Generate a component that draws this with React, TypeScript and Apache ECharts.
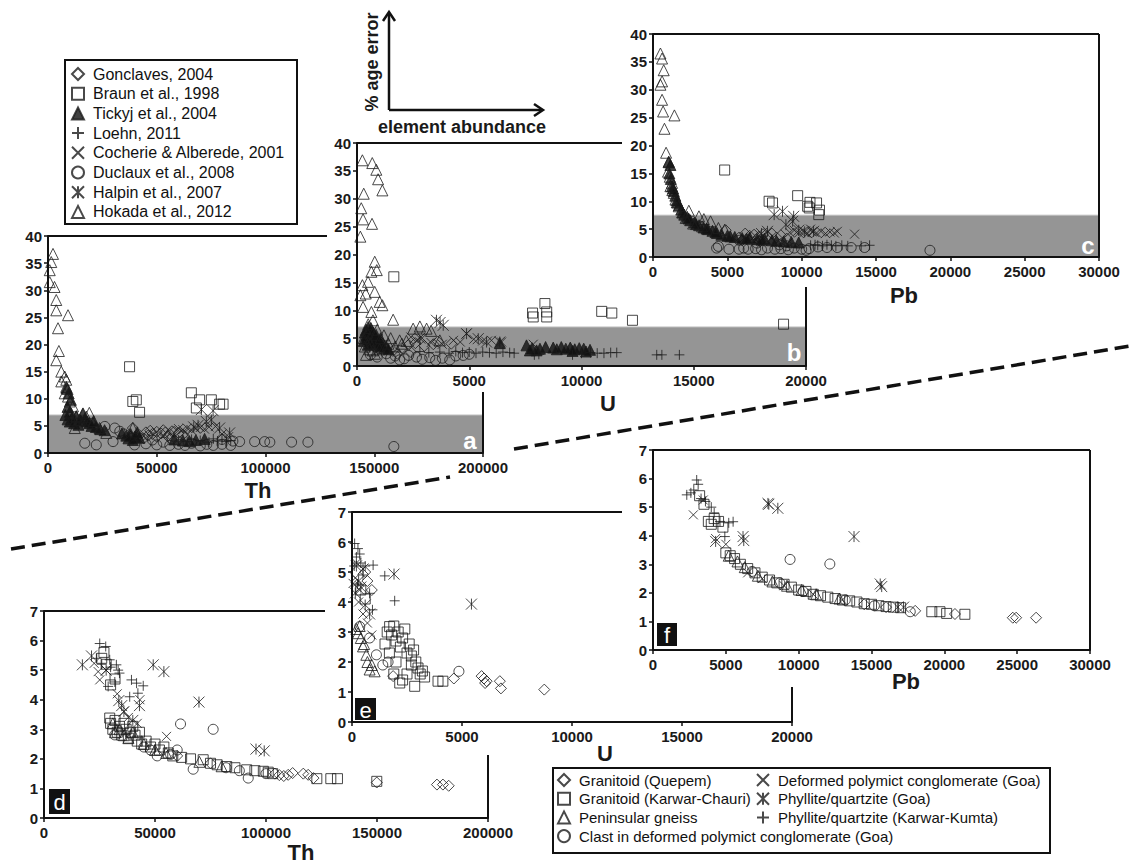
import React, { useEffect, useRef } from "react";
import * as echarts from "echarts";

const FONT = '"Liberation Sans", Arial, Helvetica, sans-serif';

// ---------- Legend names ----------
const litNames = [
  "Gonclaves, 2004",
  "Braun et al., 1998",
  "Tickyj et al., 2004",
  "Loehn, 2011",
  "Cocherie & Alberede, 2001",
  "Duclaux et al., 2008",
  "Halpin et al., 2007",
  "Hokada et al., 2012",
];
const sampleNames = [
  "Granitoid (Quepem)",
  "Granitoid (Karwar-Chauri)",
  "Peninsular gneiss",
  "Clast in deformed polymict conglomerate (Goa)",
  "Deformed polymict conglomerate (Goa)",
  "Phyllite/quartzite (Goa)",
  "Phyllite/quartzite (Karwar-Kumta)",
];

// ---------- Axis ticks ----------
const errTicksMax = 40, errTicksStep = 5;
const relTicksMax = 7, relTicksStep = 1;
const thMax = 200000, thStep = 50000;
const uMax = 20000, uStep = 5000;
const pbMax = 30000, pbStep = 5000;
const bandA = 7, bandB = 7, bandC = 7.5;

// ---------- Panel a (Th vs % age error) ----------
const aGonclaves = [[39000,4.6],[45000,3.8],[48000,3.5],[50000,3.9],[52000,3.6],[54000,3.8],[56000,3.5],[58000,3.9],[60000,3.7],[46000,3.2],[50000,3.0],[62000,3.4],[55000,3.1],[38000,3.0],[42000,3.3],[44000,2.7],[47000,4.1],[53000,4.2],[57000,4.0]];
const aBraun = [[37500,15.9],[39000,9.5],[40600,9.8],[42100,7.5],[65900,11.1],[69700,9.8],[68200,8.3],[75100,9.8],[78900,9.0],[80500,9.0]];
const aTickyj = [[8000,7.0],[9000,6.2],[10000,5.8],[11000,6.5],[12000,5.5],[14000,5.2],[15000,6.0],[16000,7.2],[17000,6.4],[18000,5.8],[19000,5.5],[20000,5.0],[22000,4.8],[24000,4.4],[8500,12.0],[9500,11.0],[10500,9.8],[38000,3.5],[40000,3.0],[42000,2.8],[36000,3.2],[58000,2.5],[62000,2.3],[65000,2.2],[68000,2.4],[72000,2.6],[9000,8.5],[10000,7.6],[13000,6.8],[21000,5.9],[26000,4.2],[34000,3.6],[37000,2.7],[39000,2.4],[41000,3.8]];
const aLoehn = [[60000,2.2],[64000,2.1],[70000,2.3],[74000,2.0],[78000,2.2],[80000,2.4],[82000,2.1],[84000,2.3],[66000,2.5],[76000,2.6]];
const aCocherie = [[60000,4.5],[62000,4.3],[64000,4.6],[66000,4.2],[68000,4.5],[70000,4.7],[72000,4.4],[74000,4.8],[63000,3.8],[77000,4.9],[80000,3.5],[83000,3.0]];
const aDuclaux = [[16900,1.8],[22200,1.5],[29900,2.1],[26100,4.9],[30700,4.6],[33000,4.0],[35000,3.5],[39800,1.5],[45000,1.7],[50000,1.5],[53000,2.0],[56000,1.4],[60000,1.6],[63000,1.4],[66000,1.8],[70000,1.3],[73000,1.6],[76000,1.4],[80000,1.6],[84000,1.4],[80000,2.5],[85000,2.2],[88100,2.1],[95000,2.1],[99600,2.1],[102000,2.0],[112000,2.0],[119500,2.0],[159000,1.2],[48000,2.4],[57000,2.6]];
const aHalpin = [[70500,8.0],[75900,7.8],[75100,6.1],[72800,5.8],[78900,4.6],[83500,3.7],[67000,4.8],[69000,5.1]];
const aHokada = [[2300,36.7],[1500,35.2],[800,33.7],[800,31.5],[3000,30.6],[3800,28.2],[3800,26.3],[9200,25.4],[4600,23.0],[5000,18.8],[3800,17.1],[6100,15.0],[7700,14.1],[6100,13.2],[8400,12.2],[7700,11.0],[9200,10.4],[10000,9.5],[11500,8.6],[10700,7.3],[13000,6.7],[14600,6.1],[12300,4.6],[16100,7.3],[17600,6.7],[20700,5.5],[23700,4.6],[26800,3.7],[39000,4.6],[8400,13.5],[9000,11.8],[11000,6.0],[19000,7.4]];

// ---------- Panel b (U vs % age error) ----------
const bGonclaves = [[600,3.8],[900,3.5],[1300,3.0],[1600,2.7],[2000,3.2],[2300,3.8],[2600,4.1],[3000,3.6],[3400,3.9],[3600,4.4],[4200,4.0],[1000,4.5],[1800,2.2],[2400,2.5]];
const bBraun = [[1640,16.0],[7820,9.5],[7850,8.8],[8370,11.2],[8450,9.7],[8450,8.8],[10900,9.8],[11350,9.5],[12270,8.2],[19000,7.5]];
const bTickyj = [[400,6.5],[500,7.0],[550,5.8],[600,6.2],[700,5.5],[800,5.0],[900,4.6],[1000,4.2],[1100,3.8],[1300,3.5],[450,5.0],[650,4.4],[350,6.0],[420,5.5],[520,4.8],[580,4.0],[620,6.8],[720,6.0],[760,4.2],[850,5.6],[950,3.6],[1050,5.0],[1200,3.2],[1400,3.0],[300,4.5],[480,3.8],[6360,4.1],[7550,3.7],[7800,3.2],[8150,3.1],[8400,3.4],[8740,3.3],[8900,3.0],[9100,3.4],[9300,3.1],[9500,3.3],[9700,3.0],[9900,3.2],[10100,3.1],[10380,2.9],[8000,2.8],[9600,2.7],[10200,2.6],[7700,2.8]];
const bLoehn = [[2800,2.6],[3200,2.4],[3690,2.5],[4100,2.3],[4400,2.6],[4700,2.4],[5000,2.5],[5300,2.3],[5600,2.5],[5900,2.4],[6200,2.3],[6500,2.5],[6800,2.4],[7000,2.3],[7900,2.0],[8100,2.1],[9600,2.0],[10000,2.3],[10400,2.4],[10700,2.3],[11000,2.3],[11300,2.4],[11570,2.4],[13350,2.0],[13580,2.0],[14360,2.0]];
const bCocherie = [[2650,4.6],[2900,5.0],[3300,4.2],[4300,4.6],[4600,4.3],[4880,5.8],[5200,4.8],[5600,4.5],[5990,4.6],[6440,4.3],[7850,3.9],[2400,5.2],[3800,3.9]];
const bDuclaux = [[1900,1.1],[2650,1.6],[3240,1.5],[4130,1.1],[4730,1.9],[1310,2.2],[1500,1.4],[1700,1.8],[2100,1.3],[2300,1.9],[2900,1.2],[3500,1.0],[3800,1.4],[4400,1.8],[600,2.0],[900,1.6],[5000,2.1]];
const bHalpin = [[3540,8.2],[3840,7.3],[4880,5.8],[5400,4.9],[5770,4.3],[6360,4.3],[3700,7.8],[2800,5.0]];
const bHokada = [[240,36.9],[680,36.4],[860,35.2],[940,33.5],[1130,31.5],[300,30.9],[190,28.3],[270,26.3],[670,25.5],[150,23.2],[790,18.7],[880,17.2],[640,16.9],[490,15.1],[240,14.5],[390,13.0],[790,13.3],[150,12.7],[1010,11.5],[1130,10.9],[270,10.6],[640,9.7],[1610,8.3],[710,8.2],[500,7.5],[2500,6.7],[2800,7.1],[3100,6.7],[1900,4.6],[3690,4.6],[300,5.0],[450,6.0],[900,6.5],[1200,5.5],[1500,5.0],[600,4.0],[400,2.0],[800,2.2],[1400,4.0],[2200,4.5],[3300,6.3],[350,3.5],[550,3.0],[700,2.8],[1000,3.0],[1700,3.5],[2000,4.0]];

// ---------- Panel c (Pb vs % age error) ----------
const cGonclaves = [[4890,4.8],[5800,3.5],[6200,4.2],[6500,3.8],[6800,4.0],[7100,3.6],[7400,4.1],[7700,3.7],[8000,4.2],[8300,3.5],[8600,3.9],[9000,3.3],[6000,3.0],[7200,2.8]];
const cBraun = [[4820,15.6],[7810,10.0],[8040,9.7],[9730,11.0],[10400,9.1],[10560,9.8],[11000,9.7],[11200,8.4],[11150,7.6],[10510,8.8]];
const cTickyj = [[1170,16.5],[1050,17.0],[1280,12.7],[1350,12.3],[1500,11.0],[1600,10.2],[1750,9.3],[1900,8.5],[2100,7.6],[2300,7.2],[2500,6.6],[2800,6.2],[3100,5.7],[3400,5.3],[3700,5.0],[4000,4.7],[4300,4.3],[4600,4.0],[5000,3.8],[5500,3.6],[6000,3.4],[6500,3.5],[7000,3.2],[7500,3.3],[8000,3.0],[1100,15.0],[1200,14.0],[1400,11.8],[1650,9.8],[2000,8.0],[2400,6.9],[2900,5.9],[3600,5.1],[4200,4.5],[5200,3.7],[6300,3.3],[7300,3.1],[8300,2.9],[8800,2.8],[9300,2.7],[9800,2.6]];
const cLoehn = [[10600,2.1],[10900,2.2],[11080,2.1],[11400,2.0],[11700,2.2],[12000,2.1],[12300,2.0],[12700,2.1],[13100,2.0],[14000,2.0],[14570,2.1]];
const cCocherie = [[13560,4.1],[9500,4.8],[9800,4.3],[10100,4.6],[10400,4.2],[10700,4.5],[11000,4.3],[11300,4.6],[11600,4.2],[11900,4.5],[12200,4.3],[12400,4.6],[9200,4.4],[10600,5.0]];
const cDuclaux = [[4280,1.6],[4400,1.9],[5110,1.4],[5790,1.4],[6100,1.6],[6400,1.4],[6900,1.5],[7300,1.3],[7700,1.6],[8200,1.4],[8600,1.5],[9100,1.3],[9500,1.6],[10000,1.4],[10500,1.5],[10300,1.2],[11100,1.8],[11700,1.7],[12400,1.7],[13330,1.7],[14230,1.7],[18630,1.2],[5800,3.0],[7000,2.5],[8500,2.2],[9000,2.0]];
const cHalpin = [[8710,8.2],[8150,7.6],[9460,7.3],[8940,5.8],[9390,6.4],[9800,4.8],[10200,4.5],[10800,4.6],[7700,4.6],[7300,4.2]];
const cHokada = [[500,36.5],[610,35.6],[720,33.5],[610,31.5],[500,30.9],[610,28.2],[680,26.1],[1440,25.4],[770,23.0],[880,18.7],[1060,17.1],[1010,15.3],[1130,14.4],[1280,13.3],[1170,12.7],[1400,11.5],[1510,10.3],[1730,9.1],[1960,8.0],[2410,8.3],[3090,7.3],[3420,6.8],[3870,6.4],[4820,4.9],[2200,7.0],[2700,6.0],[3300,5.5],[4400,5.2],[1600,9.8],[1300,12.0]];

// ---------- Panel d (Th, samples) ----------
const dQuepem = [[110000,1.46],[112000,1.52],[116800,1.5],[119000,1.46],[121400,1.35],[104000,1.5],[106000,1.45],[108000,1.42],[149900,1.2],[177000,1.13],[179700,1.13],[182300,1.09],[60000,2.1],[75000,1.85]];
const dKarwar = [[29600,3.38],[30000,3.2],[31000,3.0],[32000,3.3],[33000,2.9],[34000,3.1],[35000,2.8],[36000,3.2],[37000,3.0],[38000,2.7],[39000,2.9],[40000,3.1],[41000,2.8],[42000,2.6],[43000,2.9],[44000,2.5],[46000,2.6],[48000,2.4],[50000,2.5],[52000,2.3],[54000,2.4],[56000,2.2],[58000,2.1],[62000,2.05],[66000,2.0],[71700,1.97],[75000,1.85],[78000,1.8],[82300,1.74],[86000,1.7],[91300,1.63],[95000,1.6],[98800,1.58],[101000,1.55],[103000,1.5],[122900,1.33],[129200,1.33],[132200,1.33],[149900,1.24],[26000,5.4],[28000,5.2],[30000,4.5],[32000,4.7],[27000,5.6]];
const dGneiss = [[31000,3.2],[32000,2.9],[34000,3.0],[36000,2.8],[38000,2.7],[40000,2.9],[45000,2.5],[50000,2.3],[55000,2.2],[70000,1.9],[80000,1.75]];
const dClast = [[61500,3.18],[76200,3.0],[67200,1.65],[92000,1.35],[31900,2.81],[48000,2.3],[51000,2.1],[57000,2.15],[60000,2.3],[45000,2.4],[82000,1.7],[88000,1.6],[100000,1.5]];
const dDeformed = [[25100,4.67],[24400,4.95],[55200,2.76],[22600,5.23],[43200,4.0],[28000,5.0],[33000,4.2],[36000,3.6],[42000,3.2],[38000,3.4]];
const dPhylGoa = [[17300,5.18],[49200,5.18],[54000,4.95],[69800,3.92],[95500,2.33],[99200,2.27],[33700,3.97],[35000,3.8],[21400,5.48],[36000,3.6],[40000,3.3],[43000,3.8],[28000,5.0]];
const dPhylKK = [[25100,5.9],[27800,5.8],[23600,5.4],[29600,5.35],[32600,5.18],[33400,5.0],[28900,4.45],[31900,4.6],[39400,4.67],[41700,4.56],[44700,4.47],[42300,4.22],[38600,4.1],[30000,5.1],[34000,4.9],[26000,5.2]];

// ---------- Panel e (U, samples) ----------
const eQuepem = [[8740,1.08],[6720,1.36],[6770,1.12],[5890,1.53],[6120,1.36],[6000,1.45],[6050,1.3],[4630,1.45],[1870,1.53],[700,4.7],[900,4.4],[600,5.0]];
const eKarwar = [[3910,1.36],[4130,1.36],[2850,1.19],[2170,1.3],[1710,3.18],[1600,3.0],[1800,2.9],[1900,3.2],[2000,2.7],[2100,3.0],[2200,2.5],[2300,2.8],[2400,3.1],[2500,2.3],[2600,2.6],[2700,2.2],[2800,2.4],[2900,2.0],[3000,1.8],[3100,1.6],[3200,1.7],[3300,1.5],[2500,1.6],[2700,1.9],[2000,2.0],[1900,1.6],[2300,1.4],[1500,2.6],[1700,2.3],[400,4.4],[600,4.1]];
const eGneiss = [[800,1.75],[1030,1.69],[500,2.52],[270,2.96],[650,2.24],[200,3.1],[400,2.8],[550,2.6],[350,3.2],[700,2.0],[900,1.9]];
const eClast = [[4860,1.69],[350,3.18],[1110,2.24],[1640,2.0],[800,2.8],[1400,1.9]];
const eDeformed = [[50,4.62],[350,4.4],[200,5.3],[300,4.0],[500,3.6],[700,3.3],[150,4.8],[900,2.9]];
const ePhylGoa = [[1910,4.93],[5430,3.93],[200,5.2],[400,4.5],[600,3.9],[300,4.7],[800,3.6],[500,5.1],[150,4.3]];
const ePhylKK = [[120,5.95],[270,5.78],[1490,4.87],[1940,4.04],[960,5.23],[800,4.29],[930,3.74],[200,5.5],[400,5.3],[600,5.2],[350,5.6],[500,4.9],[100,5.2],[250,4.6]];

// ---------- Panel f (Pb, samples) ----------
const fQuepem = [[18000,1.37],[20730,1.26],[24700,1.13],[24930,1.13],[26300,1.13],[16000,1.5],[14500,1.6]];
const fKarwar = [[19140,1.34],[19700,1.34],[20160,1.28],[21410,1.25],[3800,4.5],[4000,4.4],[4200,4.6],[4500,4.5],[4800,4.3],[5000,3.4],[5300,3.3],[5600,3.2],[6000,3.0],[6500,2.85],[7000,2.7],[7500,2.55],[8000,2.45],[8500,2.35],[9000,2.3],[9500,2.2],[10000,2.1],[10500,2.05],[11000,1.95],[11500,1.9],[12000,1.85],[12500,1.8],[13000,1.75],[13500,1.72],[14000,1.68],[14500,1.62],[15000,1.6],[15500,1.55],[16000,1.52],[16500,1.5],[17000,1.48],[3500,5.1],[3200,5.4]];
const fGneiss = [[5200,3.3],[5800,3.1],[6300,2.9],[7200,2.6],[8200,2.4],[9200,2.25],[10200,2.1],[11200,1.95],[12800,1.8]];
const fClast = [[9410,3.17],[12140,3.01],[17660,1.34],[10300,2.05],[13200,1.75],[15200,1.55],[8700,2.35],[6800,2.75]];
const fDeformed = [[2770,4.73],[3450,5.25],[4300,3.9],[5000,3.7],[6500,2.7],[7500,2.5],[9000,2.25],[11000,1.95],[13000,1.75]];
const fPhylGoa = [[7890,5.13],[8570,4.96],[13800,3.97],[15600,2.31],[15700,2.22],[6180,3.97],[6230,3.83],[4300,3.8],[16800,1.5],[17200,1.5],[7950,5.1]];
const fPhylKK = [[3000,5.95],[2320,5.43],[5500,4.49],[4930,3.97],[3100,5.8],[2800,5.6],[3300,5.3],[3600,5.2],[4000,5.0],[4200,4.8],[4600,4.5],[5200,4.45],[2600,5.5]];

// ---------- symbols ----------
const SYM: Record<string, string> = {
  diamond: "diamond",
  square: "rect",
  tri: "triangle",
  ftri: "triangle",
  circle: "circle",
  plus: "path://M5 0L5 10M0 5L10 5",
  cross: "path://M0 0L10 10M10 0L0 10",
  star: "path://M0 0L10 10M10 0L0 10M5 0L5 10",
};
const SIZE: Record<string, number> = {
  diamond: 11, square: 10, tri: 11, ftri: 11, circle: 10, plus: 10, cross: 9, star: 11,
};

function sc(name: string, data: number[][], idx: number, kind: string) {
  const filled = kind === "ftri";
  return {
    type: "scatter",
    name,
    data,
    xAxisIndex: idx,
    yAxisIndex: idx,
    symbol: SYM[kind],
    symbolSize: SIZE[kind],
    z: 2,
    silent: true,
    emphasis: { disabled: true },
    itemStyle: {
      color: filled ? "#111" : "rgba(0,0,0,0)",
      borderColor: "#1c1c1c",
      borderWidth: 1,
    },
  };
}

function band(idx: number, xmax: number, ymax: number) {
  return {
    type: "scatter",
    data: [[0, 0]],
    symbolSize: 0,
    xAxisIndex: idx,
    yAxisIndex: idx,
    z: 1,
    silent: true,
    markArea: {
      silent: true,
      itemStyle: { color: "#959595", borderColor: "#bdbdbd", borderWidth: 1 },
      data: [[{ xAxis: 0, yAxis: 0 }, { xAxis: xmax, yAxis: ymax }]],
    },
  };
}

const grids = [
  { left: 48, top: 236, width: 435, height: 217 },
  { left: 357, top: 143, width: 449, height: 223 },
  { left: 653, top: 34, width: 446, height: 223 },
  { left: 44, top: 611, width: 444, height: 207 },
  { left: 352, top: 512, width: 440, height: 210 },
  { left: 653, top: 450, width: 437, height: 200 },
];
const xRanges = [
  [thMax, thStep], [uMax, uStep], [pbMax, pbStep],
  [thMax, thStep], [uMax, uStep], [pbMax, pbStep],
];

const labelStyle = {
  fontFamily: FONT, fontWeight: "bold", fontSize: 15, color: "#1a1a1a",
  formatter: (v: number) => String(v),
};
const axisBase = {
  type: "value",
  min: 0,
  z: 3,
  axisLine: { show: true, onZero: false, lineStyle: { color: "#111", width: 2 } },
  axisTick: { show: true, length: 4, lineStyle: { color: "#111", width: 1.5 } },
  splitLine: { show: false },
};

function line(x1: number, y1: number, x2: number, y2: number, w = 2, dash?: number[]) {
  return {
    type: "line",
    silent: true,
    shape: { x1, y1, x2, y2 },
    style: { stroke: "#111", lineWidth: w, lineDash: dash },
    z: 10,
  };
}
function txt(text: string, x: number, y: number, font: string, fill = "#1a1a1a", rotation = 0) {
  return {
    type: "text",
    silent: true,
    x, y, rotation,
    z: 20,
    style: { text, font, fill, textAlign: "center", textVerticalAlign: "middle" },
  };
}
function letterBox(l: string, x: number, y: number, w: number, h: number) {
  return [
    { type: "rect", silent: true, z: 19, shape: { x, y, width: w, height: h }, style: { fill: "#111" } },
    txt(l, x + w / 2, y + h / 2 + 1, `22px ${FONT}`, "#fff"),
  ];
}

export default function App() {
  const ref = useRef<HTMLDivElement>(null);
  useEffect(() => {
    const chart = echarts.init(ref.current!, null, { renderer: "svg" });

    const series: any[] = [
      band(0, thMax, bandA), band(1, uMax, bandB), band(2, pbMax, bandC),
    ];
    const lit = [
      [aGonclaves, aBraun, aTickyj, aLoehn, aCocherie, aDuclaux, aHalpin, aHokada],
      [bGonclaves, bBraun, bTickyj, bLoehn, bCocherie, bDuclaux, bHalpin, bHokada],
      [cGonclaves, cBraun, cTickyj, cLoehn, cCocherie, cDuclaux, cHalpin, cHokada],
    ];
    const litKinds = ["diamond", "square", "ftri", "plus", "cross", "circle", "star", "tri"];
    lit.forEach((set, p) => set.forEach((d, k) => series.push(sc(litNames[k], d, p, litKinds[k]))));
    const smp = [
      [dQuepem, dKarwar, dGneiss, dClast, dDeformed, dPhylGoa, dPhylKK],
      [eQuepem, eKarwar, eGneiss, eClast, eDeformed, ePhylGoa, ePhylKK],
      [fQuepem, fKarwar, fGneiss, fClast, fDeformed, fPhylGoa, fPhylKK],
    ];
    const smpKinds = ["diamond", "square", "tri", "circle", "cross", "star", "plus"];
    smp.forEach((set, p) => set.forEach((d, k) => series.push(sc(sampleNames[k], d, p + 3, smpKinds[k]))));

    const legendText = (size: number) => ({
      fontFamily: FONT, fontSize: size, color: "#111", lineHeight: 16, padding: [0, 0, 0, 4],
    });

    const graphics: any[] = [
      // legend borders
      { type: "rect", silent: true, z: 5, shape: { x: 65, y: 60, width: 232, height: 164 }, style: { fill: "none", stroke: "#111", lineWidth: 2 } },
      { type: "rect", silent: true, z: 5, shape: { x: 553, y: 768, width: 497, height: 85 }, style: { fill: "none", stroke: "#111", lineWidth: 2 } },
      // partial frame lines (top / right) of panels
      line(48, 236, 327, 236), line(483, 392, 483, 453),
      line(357, 143, 622, 143), line(806, 287, 806, 366),
      line(653, 34, 1099, 34), line(1099, 34, 1099, 257),
      line(44, 611, 325, 611), line(488, 755, 488, 818),
      line(352, 512, 622, 512), line(792, 687, 792, 722),
      line(653, 450, 1090, 450), line(1090, 450, 1090, 650),
      // dashed dividers
      line(11, 549, 450, 477, 3.5, [14, 7]),
      line(514, 449, 1130, 346, 3.5, [14, 7]),
      // concept arrows
      line(389, 110, 389, 13, 2.5), line(389, 110, 542, 110, 2.5),
      { type: "polyline", silent: true, z: 10, shape: { points: [[383, 21], [389, 12], [395, 21]] }, style: { stroke: "#111", lineWidth: 2.5, fill: "none" } },
      { type: "polyline", silent: true, z: 10, shape: { points: [[534, 104], [543, 110], [534, 116]] }, style: { stroke: "#111", lineWidth: 2.5, fill: "none" } },
      txt("% age error", 372, 62, `bold 18px ${FONT}`, "#1a1a1a", Math.PI / 2),
      txt("element abundance", 462, 127, `bold 18px ${FONT}`),
      // axis titles
      txt("Th", 258, 490, `bold 22px ${FONT}`),
      txt("U", 608, 403, `bold 22px ${FONT}`),
      txt("Pb", 904, 295, `bold 22px ${FONT}`),
      txt("Th", 301, 852, `bold 22px ${FONT}`),
      txt("U", 605, 753, `bold 22px ${FONT}`),
      txt("Pb", 906, 681, `bold 22px ${FONT}`),
      // panel letters
      txt("a", 470, 440, `bold 24px ${FONT}`, "#fff"),
      txt("b", 794, 352, `bold 24px ${FONT}`, "#fff"),
      txt("c", 1088, 245, `bold 24px ${FONT}`, "#fff"),
      ...letterBox("d", 49, 789, 21, 25),
      ...letterBox("e", 355, 698, 21, 22),
      ...letterBox("f", 657, 623, 20, 23),
    ];

    chart.setOption({
      animation: false,
      backgroundColor: "#fff",
      grid: grids.map((g) => ({ ...g, containLabel: false })),
      xAxis: grids.map((_, i) => ({
        ...axisBase,
        gridIndex: i,
        max: xRanges[i][0],
        interval: xRanges[i][1],
        axisLabel: { ...labelStyle, margin: 7 },
      })),
      yAxis: grids.map((_, i) => ({
        ...axisBase,
        gridIndex: i,
        max: i < 3 ? errTicksMax : relTicksMax,
        interval: i < 3 ? errTicksStep : relTicksStep,
        axisLabel: { ...labelStyle, margin: 6 },
      })),
      legend: [
        {
          data: litNames, orient: "vertical", left: 71, top: 66, itemWidth: 12, itemHeight: 12,
          itemGap: 3.7, selectedMode: false, padding: 0, textStyle: legendText(16),
        },
        {
          data: sampleNames.slice(0, 4), orient: "vertical", left: 557, top: 772, itemWidth: 12, itemHeight: 12,
          itemGap: 2.7, selectedMode: false, padding: 0, textStyle: legendText(15),
        },
        {
          data: sampleNames.slice(4), orient: "vertical", left: 756, top: 772, itemWidth: 12, itemHeight: 12,
          itemGap: 2.7, selectedMode: false, padding: 0, textStyle: legendText(15),
        },
      ],
      graphic: { elements: graphics },
      series,
    });
    return () => chart.dispose();
  }, []);
  return (
    <div
      ref={ref}
      style={{ position: "fixed", left: 0, top: 0, width: 1130, height: 864, background: "#fff" }}
    />
  );
}
